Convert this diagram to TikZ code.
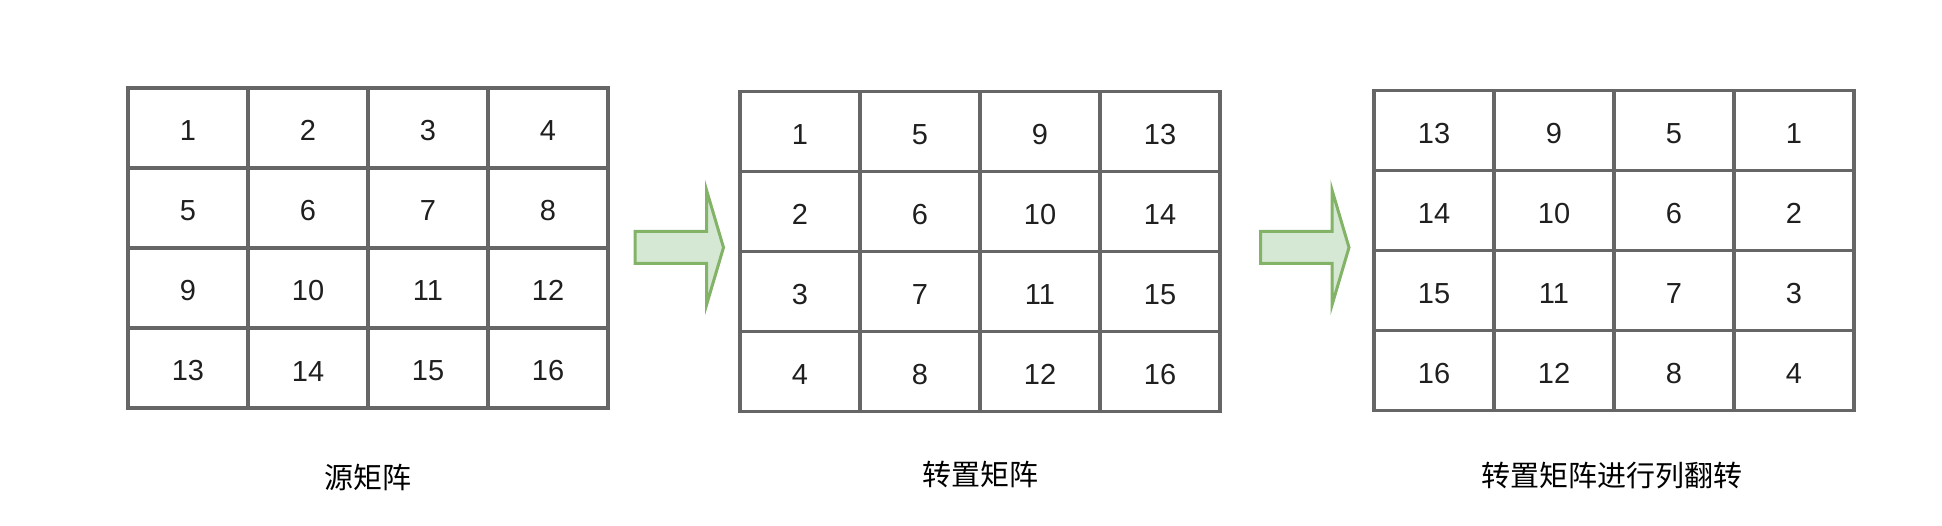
\documentclass[tikz,border=0pt]{standalone}
\usepackage{fontspec}
\setmainfont{Liberation Sans}
\newfontfamily\cjkfont{Noto Sans CJK SC}
\usetikzlibrary{positioning}

\definecolor{gridgray}{HTML}{666666}
\definecolor{arrowfill}{HTML}{D5E8D4}
\definecolor{arrowline}{HTML}{82B366}
\definecolor{numdark}{HTML}{1F1F1F}

\tikzset{
  cell/.style={draw=gridgray, line width=3.3pt, minimum width=120pt, minimum height=80pt,
    inner sep=0pt, text height=26pt, text=numdark, font=\fontsize{29}{33}\selectfont},
  caption/.style={inner sep=0pt, text=black, font=\cjkfont\fontsize{29}{33}\selectfont},
  bigarrow/.style={draw=arrowline, fill=arrowfill, line width=3pt},
}

% block arrow, starting at the middle of its tail
\newcommand{\fatarrow}[1]{%
  \draw[bigarrow] (#1) -- ++(0,-16) -- ++(71.5,0) -- ++(0,-41.5) -- ++(17,57.5)
    -- ++(-17,57.5) -- ++(0,-41.5) -- ++(-71.5,0) -- cycle;}

\begin{document}
\begin{tikzpicture}[x=1pt,y=-1pt]
  \useasboundingbox (0,0) rectangle (1942,526);

  % the three 4x4 grids
  \foreach \r in {0,...,3}
    \foreach \c in {0,...,3} {
      \pgfmathtruncatemacro\va{4*\r+\c+1}
      \pgfmathtruncatemacro\vb{4*\c+\r+1}
      \pgfmathtruncatemacro\vc{4*(3-\c)+\r+1}
      \node[cell] (src-\r-\c) at (188+120*\c,128+80*\r) {\va};
      \node[cell] (tr-\r-\c) at (800+120*\c,131.5+80*\r) {\vb};
      \node[cell] (flip-\r-\c) at (1434+120*\c,130.5+80*\r) {\vc};
    }

  % arrows between the grids
  \coordinate (arr1) at (635,247.5);
  \coordinate (arr2) at (1260.5,247.5);
  \fatarrow{arr1}
  \fatarrow{arr2}

  % captions
  \node[caption] (srccap) at (367.5,477.5) {源矩阵};
  \node[caption] (trcap) at (980,474) {转置矩阵};
  \node[caption] (flipcap) at (1612,476) {转置矩阵进行列翻转};
\end{tikzpicture}
\end{document}
